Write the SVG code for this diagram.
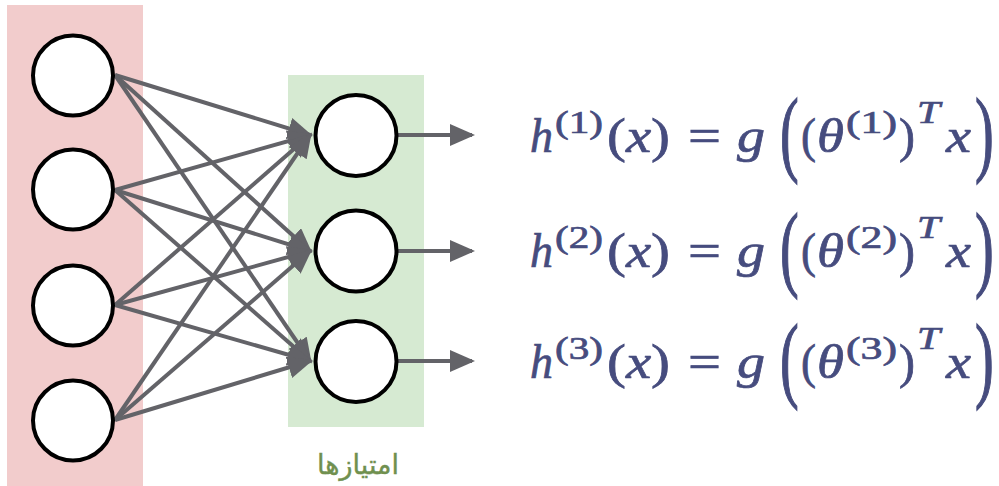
<svg xmlns="http://www.w3.org/2000/svg" width="999" height="486" viewBox="0 0 999 486">
<style>
.node{fill:#ffffff;stroke:#000000;stroke-width:4}
.edge{stroke:#636368;stroke-width:4;fill:none;marker-end:url(#ah)}
.m{font-family:"Liberation Serif","DejaVu Serif",serif;fill:#464c7e;stroke:#464c7e;stroke-width:0.7}
.i{font-style:italic}
.big{font-size:48px}
.sup{font-size:32px}
.lbl{font-family:"DejaVu Sans","Noto Sans",sans-serif;font-size:27px;fill:#70904f;stroke:#70904f;stroke-width:0.4}
</style>
<defs>
<marker id="ah" markerUnits="userSpaceOnUse" markerWidth="30" markerHeight="24" refX="22" refY="11" orient="auto">
<path d="M0,0 L25,11 L0,22 Z" fill="#636368"/>
</marker>
</defs>
<rect id="input-layer" x="7" y="5" width="136" height="481" fill="#f2cccc"/>
<rect id="feature-layer" x="288" y="75" width="136" height="352" fill="#d6ead2"/>
<g id="connectors">
<line class="edge" x1="115" y1="75" x2="310" y2="135"/>
<line class="edge" x1="115" y1="75" x2="310" y2="251"/>
<line class="edge" x1="115" y1="75" x2="310" y2="361"/>
<line class="edge" x1="115" y1="190" x2="310" y2="135"/>
<line class="edge" x1="115" y1="190" x2="310" y2="251"/>
<line class="edge" x1="115" y1="190" x2="310" y2="361"/>
<line class="edge" x1="115" y1="305" x2="310" y2="135"/>
<line class="edge" x1="115" y1="305" x2="310" y2="251"/>
<line class="edge" x1="115" y1="305" x2="310" y2="361"/>
<line class="edge" x1="115" y1="420" x2="310" y2="135"/>
<line class="edge" x1="115" y1="420" x2="310" y2="251"/>
<line class="edge" x1="115" y1="420" x2="310" y2="361"/>
<line class="edge" x1="398" y1="135" x2="472" y2="135"/>
<line class="edge" x1="398" y1="251" x2="472" y2="251"/>
<line class="edge" x1="398" y1="361" x2="472" y2="361"/>
</g>
<g id="in1"><circle class="node" cx="73" cy="75.5" r="40"/></g>
<g id="in2"><circle class="node" cx="73" cy="189.5" r="40"/></g>
<g id="in3"><circle class="node" cx="73" cy="305.5" r="40"/></g>
<g id="in4"><circle class="node" cx="73" cy="420.5" r="40"/></g>
<g id="h1"><circle class="node" cx="356" cy="135.5" r="40.5"/></g>
<g id="h2"><circle class="node" cx="356" cy="251" r="40.5"/></g>
<g id="h3"><circle class="node" cx="356" cy="361.5" r="40.5"/></g>
<g id="label"><text class="lbl" x="358" y="474" text-anchor="middle" direction="rtl">امتیازها</text></g>
<g id="eq1" class="m">
<text class="big i" x="530" y="152" textLength="23" lengthAdjust="spacingAndGlyphs">h</text>
<text class="sup" x="555" y="133" textLength="48" lengthAdjust="spacingAndGlyphs">(1)</text>
<text class="big" x="607" y="152" textLength="63" lengthAdjust="spacingAndGlyphs">(<tspan class="i">x</tspan>)</text>
<text class="big" x="688" y="152" textLength="33" lengthAdjust="spacingAndGlyphs">=</text>
<text class="big i" x="737" y="152" textLength="28" lengthAdjust="spacingAndGlyphs">g</text>
<text class="big" transform="translate(780,164) scale(1.25,2)" x="0" y="0" textLength="15" lengthAdjust="spacingAndGlyphs">(</text>
<text class="big" x="801" y="152" textLength="15" lengthAdjust="spacingAndGlyphs">(</text>
<text class="big i" x="817" y="152" textLength="27" lengthAdjust="spacingAndGlyphs">θ</text>
<text class="sup" x="846" y="133" textLength="51" lengthAdjust="spacingAndGlyphs">(1)</text>
<text class="big" x="899" y="152" textLength="16" lengthAdjust="spacingAndGlyphs">)</text>
<text class="sup i" x="917" y="123" textLength="23" lengthAdjust="spacingAndGlyphs">T</text>
<text class="big i" x="946" y="152" textLength="25" lengthAdjust="spacingAndGlyphs">x</text>
<text class="big" transform="translate(975,164) scale(1.25,2)" x="0" y="0" textLength="15" lengthAdjust="spacingAndGlyphs">)</text>
</g>
<g id="eq2" class="m" transform="translate(0,115)">
<text class="big i" x="530" y="152" textLength="23" lengthAdjust="spacingAndGlyphs">h</text>
<text class="sup" x="555" y="133" textLength="48" lengthAdjust="spacingAndGlyphs">(2)</text>
<text class="big" x="607" y="152" textLength="63" lengthAdjust="spacingAndGlyphs">(<tspan class="i">x</tspan>)</text>
<text class="big" x="688" y="152" textLength="33" lengthAdjust="spacingAndGlyphs">=</text>
<text class="big i" x="737" y="152" textLength="28" lengthAdjust="spacingAndGlyphs">g</text>
<text class="big" transform="translate(780,164) scale(1.25,2)" x="0" y="0" textLength="15" lengthAdjust="spacingAndGlyphs">(</text>
<text class="big" x="801" y="152" textLength="15" lengthAdjust="spacingAndGlyphs">(</text>
<text class="big i" x="817" y="152" textLength="27" lengthAdjust="spacingAndGlyphs">θ</text>
<text class="sup" x="846" y="133" textLength="51" lengthAdjust="spacingAndGlyphs">(2)</text>
<text class="big" x="899" y="152" textLength="16" lengthAdjust="spacingAndGlyphs">)</text>
<text class="sup i" x="917" y="123" textLength="23" lengthAdjust="spacingAndGlyphs">T</text>
<text class="big i" x="946" y="152" textLength="25" lengthAdjust="spacingAndGlyphs">x</text>
<text class="big" transform="translate(975,164) scale(1.25,2)" x="0" y="0" textLength="15" lengthAdjust="spacingAndGlyphs">)</text>
</g>
<g id="eq3" class="m" transform="translate(0,226)">
<text class="big i" x="530" y="152" textLength="23" lengthAdjust="spacingAndGlyphs">h</text>
<text class="sup" x="555" y="133" textLength="48" lengthAdjust="spacingAndGlyphs">(3)</text>
<text class="big" x="607" y="152" textLength="63" lengthAdjust="spacingAndGlyphs">(<tspan class="i">x</tspan>)</text>
<text class="big" x="688" y="152" textLength="33" lengthAdjust="spacingAndGlyphs">=</text>
<text class="big i" x="737" y="152" textLength="28" lengthAdjust="spacingAndGlyphs">g</text>
<text class="big" transform="translate(780,164) scale(1.25,2)" x="0" y="0" textLength="15" lengthAdjust="spacingAndGlyphs">(</text>
<text class="big" x="801" y="152" textLength="15" lengthAdjust="spacingAndGlyphs">(</text>
<text class="big i" x="817" y="152" textLength="27" lengthAdjust="spacingAndGlyphs">θ</text>
<text class="sup" x="846" y="133" textLength="51" lengthAdjust="spacingAndGlyphs">(3)</text>
<text class="big" x="899" y="152" textLength="16" lengthAdjust="spacingAndGlyphs">)</text>
<text class="sup i" x="917" y="123" textLength="23" lengthAdjust="spacingAndGlyphs">T</text>
<text class="big i" x="946" y="152" textLength="25" lengthAdjust="spacingAndGlyphs">x</text>
<text class="big" transform="translate(975,164) scale(1.25,2)" x="0" y="0" textLength="15" lengthAdjust="spacingAndGlyphs">)</text>
</g>
</svg>
